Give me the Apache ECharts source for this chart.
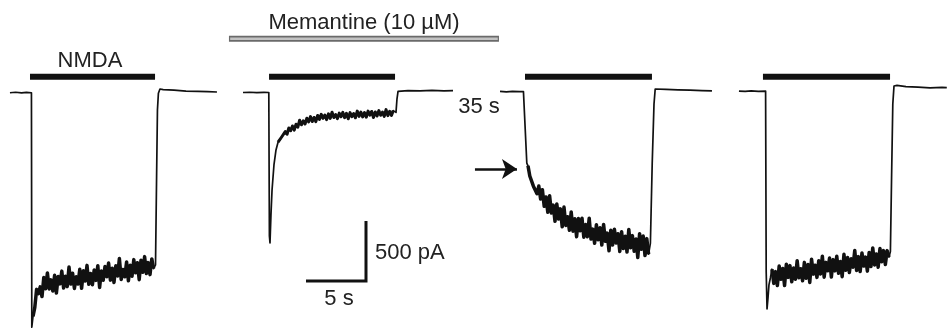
<!DOCTYPE html>
<html>
<head>
<meta charset="utf-8">
<script src="https://cdn.jsdelivr.net/npm/echarts@6/dist/echarts.min.js"></script>
<style>
  html, body { margin: 0; padding: 0; background: #fff; }
  #chart { width: 947px; height: 331px; }
</style>
</head>
<body>
<div id="chart"></div>
<script>
// whole-cell currents, time in s, current in pA
const SAMPLE_DT = 0.15; // s between samples of the noisy plateau

// control NMDA response
const trace1Before = [[0.83, -6], [1.3, -2], [1.8, -7], [2.2, -3], [2.62, -6]];
const trace1Onset = [[2.65, -1960], [2.70, -1975]];
const trace1Start = 2.75;
const trace1Samples = [
  -1870, -1795, -1645, -1680, -1624, -1705, -1546, -1640, -1509, -1641,
  -1566, -1659, -1528, -1676, -1537, -1599, -1493, -1634, -1536, -1622,
  -1459, -1601, -1511, -1637, -1539, -1600, -1478, -1636, -1490, -1576,
  -1445, -1603, -1513, -1606, -1484, -1570, -1448, -1629, -1491, -1569,
  -1455, -1540, -1426, -1568, -1469, -1587, -1449, -1534, -1388, -1562,
  -1479, -1540, -1417, -1574, -1443, -1536, -1397, -1506, -1423, -1564,
  -1402, -1503, -1372, -1513, -1422, -1522, -1391, -1472
];
const trace1After = [[12.96, -1440], [13.05, -700], [13.12, -150], [13.2, -10], [13.33, 25],
  [13.6, 20], [14.5, 15], [15.5, 8], [16.5, 5], [17.3, 3], [18.08, 0]];

// NMDA + memantine
const trace2Before = [[20.25, -4], [20.8, -2], [21.4, -5], [22.0, -3], [22.4, -4]];
const trace2Onset = [[22.45, -1200], [22.5, -1258], [22.58, -1025], [22.67, -817], [22.83, -608], [23.0, -483]];
const trace2Start = 23.17;
const trace2Samples = [
  -418, -423, -375, -390, -330, -352, -300, -323, -283, -318,
  -268, -293, -235, -273, -240, -267, -218, -249, -205, -246,
  -212, -247, -195, -228, -186, -219, -192, -230, -182, -220,
  -169, -213, -188, -222, -176, -206, -170, -214, -178, -223,
  -172, -206, -180, -215, -159, -203, -167, -207, -171, -210,
  -159, -193, -162, -212, -166, -200, -155, -194, -168, -203,
  -147, -197, -161, -195, -155
];
const trace2After = [[33.0, -170], [33.08, -60], [33.17, 5], [33.3, 14], [34.0, 12],
  [35.0, 9], [36.0, 13], [37.0, 10], [37.75, 11]];

// NMDA 35 s after memantine washout
const trace3Before = [[41.67, 5], [42.2, 2], [42.7, 6], [43.3, 3], [43.62, 4]];
const trace3Onset = [[43.9, -592]];
const trace3Start = 44.0;
const trace3Samples = [
  -615, -700, -700, -785, -775, -847, -784, -892, -814, -953,
  -875, -1002, -865, -1008, -943, -1078, -933, -1058, -974, -1123,
  -959, -1112, -1040, -1152, -1000, -1160, -1056, -1206, -1054, -1157,
  -1052, -1210, -1105, -1206, -1052, -1226, -1143, -1261, -1106, -1231,
  -1132, -1275, -1104, -1244, -1176, -1324, -1152, -1276, -1143, -1258,
  -1182, -1329, -1164, -1304, -1203, -1334, -1145, -1299, -1197, -1327,
  -1225, -1379, -1181, -1311, -1201, -1363, -1222, -1352
];
const trace3After = [[54.2, -1260], [54.35, -600], [54.5, -100], [54.6, 25], [54.75, 30],
  [55.5, 22], [56.5, 18], [57.5, 16], [58.5, 12], [59.33, 10]];

// NMDA recovery
const trace4Before = [[61.58, 8], [62.1, 5], [62.6, 9], [63.2, 6], [63.8, 8]];
const trace4Onset = [[63.85, -1500], [63.92, -1808], [64.0, -1717], [64.08, -1608], [64.2, -1550]];
const trace4Start = 64.33;
const trace4Samples = [
  -1477, -1595, -1497, -1613, -1451, -1561, -1471, -1613, -1435, -1545,
  -1447, -1581, -1467, -1561, -1406, -1548, -1473, -1574, -1420, -1553,
  -1438, -1587, -1393, -1518, -1444, -1545, -1406, -1516, -1369, -1543,
  -1420, -1490, -1384, -1542, -1397, -1491, -1369, -1511, -1413, -1539,
  -1353, -1486, -1380, -1505, -1390, -1460, -1321, -1487, -1372, -1497,
  -1342, -1451, -1376, -1493, -1338, -1455, -1300, -1441, -1351, -1460,
  -1305, -1414, -1322, -1438, -1322, -1376
];
const trace4After = [[74.2, -1330], [74.3, -700], [74.4, -100], [74.5, 50], [74.75, 55],
  [75.5, 45], [76.5, 40], [77.5, 35], [78.5, 38], [78.9, 36]];

// application periods (s)
const nmdaWindows = [[2.5, 12.92], [22.42, 32.92], [43.75, 54.33], [63.58, 74.17]];
const memantineWindow = [19.08, 41.58];
const memantineLabel = 'Memantine (10 µM)';

// scale bar: 5 s, 500 pA
const scaleTime = 5;
const scaleCurrent = 500;

const NMDA_LEVEL = 127;      // pA, vertical placement of the NMDA bars
const MEMANTINE_LEVEL = 444; // pA
const SCALE_CORNER = [30.5, -1575];
const ARROW = [[39.58, -642], [43.08, -642]];

function sampled(t0, samples) {
  return samples.map((v, i) => [+(t0 + i * SAMPLE_DT).toFixed(3), v]);
}

const traces = [
  { before: trace1Before, onset: trace1Onset, noisy: sampled(trace1Start, trace1Samples), after: trace1After, band: 3.5 },
  { before: trace2Before, onset: trace2Onset, noisy: sampled(trace2Start, trace2Samples), after: trace2After, band: 3 },
  { before: trace3Before, onset: trace3Onset, noisy: sampled(trace3Start, trace3Samples), after: trace3After, band: 3.5 },
  { before: trace4Before, onset: trace4Onset, noisy: sampled(trace4Start, trace4Samples), after: trace4After, band: 3.5 }
];

const FONT = '"Liberation Sans", Arial, Helvetica, sans-serif';
const INK = '#111';

const chart = echarts.init(document.getElementById('chart'), null, { renderer: 'canvas' });

const series = [];

traces.forEach(tr => {
  series.push({
    type: 'line',
    data: tr.before.concat(tr.onset, tr.noisy, tr.after),
    symbol: 'none',
    clip: false,
    lineStyle: { color: INK, width: 1.7, join: 'round' }
  });
  // the recorded noise reads as a dense black band
  series.push({
    type: 'line',
    data: tr.noisy,
    symbol: 'none',
    clip: false,
    lineStyle: { color: INK, width: tr.band, join: 'round' }
  });
});

nmdaWindows.forEach(w => {
  series.push({
    type: 'line',
    data: [[w[0], NMDA_LEVEL], [w[1], NMDA_LEVEL]],
    symbol: 'none',
    lineStyle: { color: INK, width: 6, cap: 'butt' }
  });
});

// memantine bar: dark outline, light fill
series.push({
  type: 'line',
  data: [[memantineWindow[0], MEMANTINE_LEVEL], [memantineWindow[1], MEMANTINE_LEVEL]],
  symbol: 'none',
  lineStyle: { color: '#6a6a6a', width: 6 }
});
series.push({
  type: 'line',
  data: [[memantineWindow[0] + 0.1, MEMANTINE_LEVEL], [memantineWindow[1] - 0.1, MEMANTINE_LEVEL]],
  symbol: 'none',
  lineStyle: { color: '#c2c2c2', width: 2.5 }
});

// scale bar
series.push({
  type: 'line',
  data: [
    [SCALE_CORNER[0] - scaleTime, SCALE_CORNER[1]],
    [SCALE_CORNER[0], SCALE_CORNER[1]],
    [SCALE_CORNER[0], SCALE_CORNER[1] + scaleCurrent]
  ],
  symbol: 'none',
  lineStyle: { color: INK, width: 3, join: 'miter', cap: 'butt' }
});

// arrow
series.push({
  type: 'lines',
  coordinateSystem: 'cartesian2d',
  symbol: ['none', 'arrow'],
  symbolSize: 15,
  data: [{ coords: ARROW }],
  lineStyle: { color: INK, width: 2.5, opacity: 1, curveness: 0 }
});

function label(text, x, y, align) {
  return {
    type: 'text',
    x: x, y: y,
    style: {
      text: text,
      font: '22px ' + FONT,
      fill: '#222',
      align: align || 'center',
      verticalAlign: 'middle'
    }
  };
}

chart.setOption({
  animation: false,
  backgroundColor: '#fff',
  grid: { left: 0, right: 0, top: 0, bottom: 0 },
  xAxis: { type: 'value', min: 0, max: 78.9167, show: false },
  yAxis: { type: 'value', min: -1992, max: 767, show: false },
  series: series,
  graphic: [
    label('NMDA', 90, 61),
    label(memantineLabel, 364, 23),
    label('35 s', 479, 107),
    label(scaleCurrent + ' pA', 375, 253, 'left'),
    label(scaleTime + ' s', 339, 299)
  ]
});
</script>
</body>
</html>
